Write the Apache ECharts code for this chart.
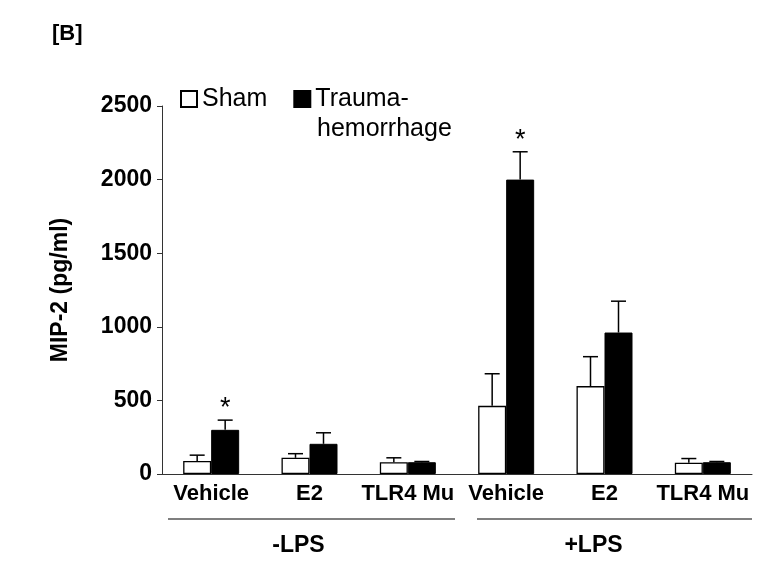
<!DOCTYPE html>
<html>
<head>
<meta charset="utf-8">
<script src="https://cdn.jsdelivr.net/npm/echarts@6/dist/echarts.min.js"></script>
<style>
  html, body { margin: 0; padding: 0; background: #fff; }
  #chart { width: 781px; height: 584px; }
</style>
</head>
<body>
<div id="chart"></div>
<script>
// categories along x (two groups of three)
const categories = ['Vehicle', 'E2', 'TLR4 Mu', 'Vehicle', 'E2', 'TLR4 Mu'];
const groups = ['-LPS', '+LPS'];
const groupMembers = [[0, 2], [3, 5]];

// MIP-2 (pg/ml) values
const shamValues = [88, 110, 80, 463, 597, 76];
const shamErrors = [40, 28, 30, 218, 200, 29];
const traumaValues = [300, 205, 80, 2000, 961, 80];
const traumaErrors = [66, 75, 5, 189, 213, 5];
const traumaSignificant = [true, false, false, true, false, false];

const yTicks = { min: 0, max: 2500, interval: 500 };

const FONT = 'Arial, "Liberation Sans", sans-serif';
const BAR_W = 28;

const chart = echarts.init(document.getElementById('chart'));

// one-sided (upper) error bars, drawn at the bar centres
function errorSeries(name, values, errors, offset, stars) {
  return {
    name: name,
    type: 'custom',
    z: 5,
    data: values.map((v, i) => [i, v, errors[i], stars ? (stars[i] ? 1 : 0) : 0]),
    renderItem: function (params, api) {
      const i = api.value(0);
      const top = api.coord([i, api.value(1)]);
      const cap = api.coord([i, api.value(1) + api.value(2)]);
      const x = top[0] + offset;
      const children = [
        { type: 'line', shape: { x1: x, y1: top[1], x2: x, y2: cap[1] },
          style: { stroke: '#000', lineWidth: 1.5 } },
        { type: 'line', shape: { x1: x - 7.5, y1: cap[1], x2: x + 7.5, y2: cap[1] },
          style: { stroke: '#000', lineWidth: 1.5 } }
      ];
      if (api.value(3)) {
        children.push({
          type: 'text',
          style: { text: '*', x: x, y: cap[1] + 2, align: 'center', verticalAlign: 'bottom',
                   font: 'normal 27px ' + FONT, fill: '#000' }
        });
      }
      return { type: 'group', children: children };
    }
  };
}

const option = {
  backgroundColor: '#fff',
  animation: false,
  title: {
    text: '[B]',
    left: 47,
    top: 18,
    textStyle: { fontFamily: FONT, fontSize: 22, fontWeight: 'bold', color: '#000' }
  },
  legend: {
    left: 175,
    top: 79,
    itemWidth: 16,
    itemHeight: 16,
    itemGap: 26,
    icon: 'rect',
    selectedMode: false,
    textStyle: { fontFamily: FONT, fontSize: 25, color: '#000', lineHeight: 30 },
    formatter: function (name) {
      return name === 'Trauma-hemorrhage' ? 'Trauma-' : name;
    },
    data: ['Sham', 'Trauma-hemorrhage']
  },
  graphic: [
    {
      id: 'legend2',
      type: 'text',
      left: 317,
      top: 117,
      style: { text: 'hemorrhage', font: 'normal 25px ' + FONT, fill: '#000' }
    }
  ],
  grid: { left: 162, right: 29, top: 106, bottom: 110, containLabel: false },
  xAxis: [
    {
      type: 'category',
      data: categories,
      axisLine: { lineStyle: { color: '#333', width: 1 } },
      axisTick: { show: false },
      axisLabel: {
        interval: 0, margin: 9,
        fontFamily: FONT, fontSize: 22, fontWeight: 'bold', color: '#000'
      }
    },
    {
      type: 'category',
      data: groups,
      position: 'bottom',
      offset: 52,
      axisLine: { show: false },
      axisTick: { show: false },
      axisLabel: {
        interval: 0, margin: 8, padding: [0, 22, 0, 0],
        fontFamily: FONT, fontSize: 23, fontWeight: 'bold', color: '#000'
      }
    }
  ],
  yAxis: {
    type: 'value',
    min: yTicks.min,
    max: yTicks.max,
    interval: yTicks.interval,
    name: 'MIP-2 (pg/ml)',
    nameLocation: 'middle',
    nameGap: 90,
    nameTextStyle: { fontFamily: FONT, fontSize: 23, fontWeight: 'bold', color: '#000' },
    axisLine: { show: true, lineStyle: { color: '#333', width: 1 } },
    axisTick: { show: true, length: 5, lineStyle: { color: '#333' } },
    splitLine: { show: false },
    axisLabel: {
      margin: 10, fontFamily: FONT, fontSize: 23, fontWeight: 'bold', color: '#000',
      formatter: function (v) { return String(v); }
    }
  },
  series: [
    {
      name: 'Sham',
      type: 'bar',
      data: shamValues,
      barWidth: BAR_W,
      barGap: '0%',
      itemStyle: { color: '#fff', borderColor: '#000', borderWidth: 1.3 }
    },
    {
      name: 'Trauma-hemorrhage',
      type: 'bar',
      data: traumaValues,
      barWidth: BAR_W,
      barGap: '0%',
      itemStyle: { color: '#000', borderColor: '#000', borderWidth: 1 }
    },
    errorSeries('shamErr', shamValues, shamErrors, -BAR_W / 2, null),
    errorSeries('traumaErr', traumaValues, traumaErrors, BAR_W / 2, traumaSignificant)
  ]
};

chart.setOption(option);

// underline each group, placed from the category axis
const c0 = chart.convertToPixel({ xAxisIndex: 0 }, 0);
const band = chart.convertToPixel({ xAxisIndex: 0 }, 1) - c0;
const baseY = chart.convertToPixel({ yAxisIndex: 0 }, 0);
const insets = [[6, 2], [20, 0]];
chart.setOption({
  graphic: groupMembers.map((m, g) => {
    const x1 = chart.convertToPixel({ xAxisIndex: 0 }, m[0]) - band / 2 + insets[g][0];
    const x2 = chart.convertToPixel({ xAxisIndex: 0 }, m[1]) + band / 2 - insets[g][1];
    return {
      id: 'groupLine' + g,
      type: 'line',
      shape: { x1: x1, y1: baseY + 45, x2: x2, y2: baseY + 45 },
      style: { stroke: '#000', lineWidth: 1.2 }
    };
  })
});
</script>
</body>
</html>
